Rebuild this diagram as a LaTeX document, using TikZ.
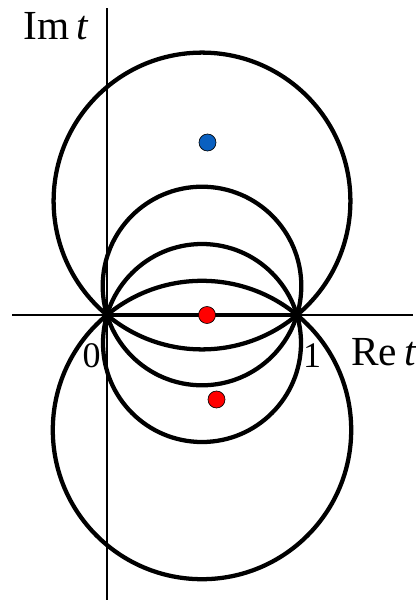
\documentclass[tikz,border=0pt]{standalone}
\usepackage{fontspec}
\setmainfont{Liberation Serif}
\usepackage{xcolor}
\usetikzlibrary{calc}

\definecolor{poleblue}{RGB}{10,96,192}
\tikzset{
  family/.style={line width=3.2pt, color=black},
  axisline/.style={line width=1.5pt, color=black},
  pole/.style={circle, draw=black, line width=0.5pt, inner sep=0pt, minimum size=12.75pt},
  axlabel/.style={inner sep=0pt, font=\fontsize{31}{36}\selectfont},
  numlabel/.style={inner sep=0pt, font=\fontsize{27}{32}\selectfont}
}

\begin{document}
\begin{tikzpicture}[x=0.75pt,y=0.75pt,yscale=-1,xscale=1]
\useasboundingbox (0,0) rectangle (416,600);

%Points 0 and 1
\coordinate (O) at (107,315);
\coordinate (I) at (297,315);

%Straight Lines: axes
\coordinate (xl) at (12,315);
\coordinate (xr) at (413,315);
\coordinate (yt) at (107,8);
\coordinate (yb) at (107,600);
\draw [axisline] (xl) -- (xr) ;
\draw [axisline] (yt) -- (yb) ;

%Shape: Circles through 0 and 1
\draw [family] (202,201) circle [radius=148.4] ;
\draw [family] (202,286) circle [radius=99.3] ;
\draw [family] (202,343) circle [radius=99.0] ;
\draw [family] (202,430) circle [radius=149.2] ;
%Straight Lines: segment [0,1]
\draw [family] (O) -- (I) ;

%Shape: poles
\node [pole, fill=poleblue] (pb) at (207.5,142.5) {};
\node [pole, fill=red] (pr1) at (207,315) {};
\node [pole, fill=red] (pr2) at (216.5,399.5) {};

% Text Node
\node [axlabel, anchor=base west] (imt) at (23,39) {Im\,\textit{t}};
% Text Node
\node [axlabel, anchor=base west] (ret) at (351,365) {Re\,\textit{t}};
% Text Node
\node [numlabel, anchor=base] (zero) at (91.5,367) {0};
% Text Node
\node [numlabel, anchor=base] (one) at (312,367) {1};

\end{tikzpicture}
\end{document}
